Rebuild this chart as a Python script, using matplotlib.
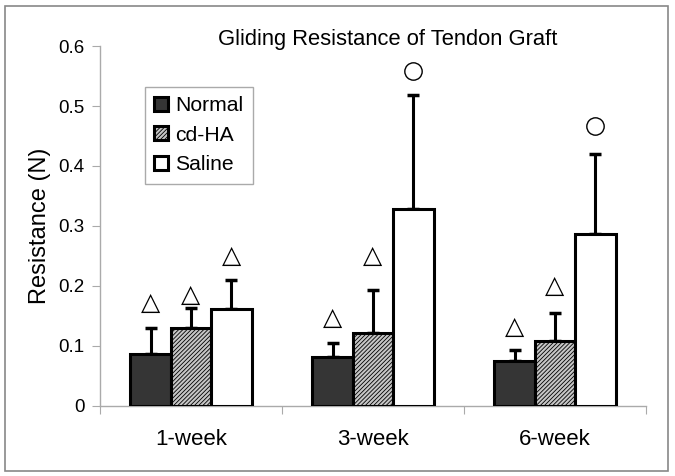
import matplotlib
matplotlib.use("Agg")
import matplotlib.pyplot as plt
import numpy as np

plt.rcParams['font.family'] = ['Liberation Sans', 'DejaVu Sans']
plt.rcParams['hatch.color'] = '#939393'
plt.rcParams['hatch.linewidth'] = 0.6

# data
weeks = ['1-week', '3-week', '6-week']
groups = ['Normal', 'cd-HA', 'Saline']
means = {
    'Normal': [0.086, 0.081, 0.074],
    'cd-HA': [0.130, 0.121, 0.107],
    'Saline': [0.161, 0.328, 0.287],
}
err_top = {
    'Normal': [0.130, 0.105, 0.093],
    'cd-HA': [0.163, 0.193, 0.155],
    'Saline': [0.209, 0.518, 0.420],
}
# significance marks: triangle or circle above each bar
mark_kind = {
    'Normal': ['tri', 'tri', 'tri'],
    'cd-HA': ['tri', 'tri', 'tri'],
    'Saline': ['tri', 'circ', 'circ'],
}
mark_y = {
    'Normal': [0.172, 0.147, 0.131],
    'cd-HA': [0.185, 0.250, 0.199],
    'Saline': [0.250, 0.558, 0.467],
}

faces = {'Normal': '#353535', 'cd-HA': '#c6c6c6', 'Saline': 'white'}
hatches = {'Normal': None, 'cd-HA': '////////', 'Saline': None}

fig = plt.figure(figsize=(6.75, 4.76), dpi=100)
ax = fig.add_axes([0.148, 0.148, 0.809, 0.755])

x = np.arange(len(weeks))
w = 0.222
for k, g in enumerate(groups):
    pos = x + (k - 1) * w
    m = np.array(means[g])
    up = np.array(err_top[g]) - m
    ax.bar(pos, m, width=w, color=faces[g], hatch=hatches[g],
           edgecolor='black', linewidth=2.2, label=g, zorder=3)
    ax.errorbar(pos, m, yerr=[np.zeros_like(up), up], fmt='none',
                ecolor='black', elinewidth=2.2, capsize=4.5, capthick=2.5, zorder=2)
    for p, kind, yy in zip(pos, mark_kind[g], mark_y[g]):
        if kind == 'tri':
            ax.text(p, yy, '\u25b3', ha='center', va='center', fontsize=18,
                    family=['DejaVu Sans'], zorder=4)
        else:
            ax.plot(p, yy, 'o', ms=12.5, mfc='white', mec='black', mew=1.0, zorder=4)

ax.set_xlim(-0.5, 2.5)
ax.set_ylim(0, 0.6)
ax.set_yticks([0, 0.1, 0.2, 0.3, 0.4, 0.5, 0.6])
ax.set_yticklabels(['0', '0.1', '0.2', '0.3', '0.4', '0.5', '0.6'], fontsize=13.5)
ax.set_xticks([-0.5, 0.5, 1.5, 2.5])
ax.set_xticklabels([])
ax.set_xticks(x, minor=True)
ax.set_xticklabels(weeks, minor=True, fontsize=16)
ax.tick_params(axis='x', which='minor', length=0, pad=17)
ax.tick_params(axis='x', which='major', length=6, color='#aaaaaa')
ax.tick_params(axis='y', length=6, color='#aaaaaa', pad=5)

for s in ['top', 'right']:
    ax.spines[s].set_visible(False)
for s in ['left', 'bottom']:
    ax.spines[s].set_color('#aaaaaa')
    ax.spines[s].set_linewidth(1.0)

ax.set_ylabel('Resistance (N)', fontsize=17, labelpad=5)
fig.text(0.575, 0.918, 'Gliding Resistance of Tendon Graft', ha='center',
         va='center', fontsize=15.8)

leg = ax.legend(loc='upper left', bbox_to_anchor=(0.082, 0.887), fontsize=15.2,
                fancybox=False, framealpha=1, edgecolor='#aaaaaa',
                handlelength=0.65, handleheight=0.65, handletextpad=0.35,
                labelspacing=0.5, borderpad=0.45, borderaxespad=0)
leg.get_frame().set_linewidth(1.0)

# outer frame of the picture
fig.patches.append(plt.Rectangle((0.008, 0.01), 0.982, 0.978, transform=fig.transFigure,
                                 fill=False, edgecolor='#888888', linewidth=1.2))

fig.savefig('out.png', dpi=100)
